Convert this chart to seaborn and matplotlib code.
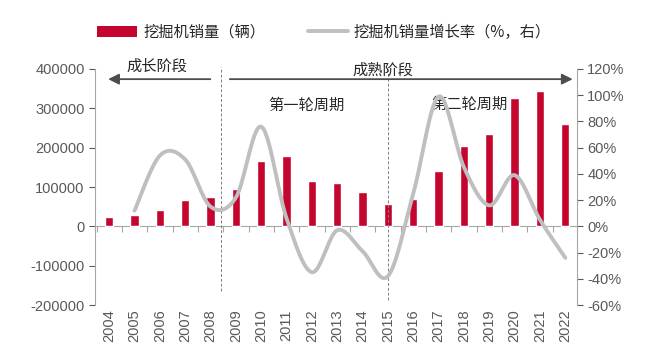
import matplotlib
matplotlib.use("Agg")
import matplotlib.pyplot as plt
import numpy as np
import seaborn as sns
from matplotlib.patches import Patch
from matplotlib.lines import Line2D

years = [str(y) for y in range(2004, 2023)]
sales = [23000, 28000, 42000, 66000, 75000, 94000, 167000, 178000, 115000, 109000,
         88000, 56000, 70000, 140000, 203000, 236000, 327000, 343000, 261000]
growth_years = years[1:]
growth = [12, 54, 51, 15, 22, 76, 6, -35, -3, -19, -38, 25, 99, 45, 16, 39, 5, -24]

bar_color = "#C4062F"
line_color = "#BFBFBF"
tick_color = "#595959"
cjk = ["Noto Sans CJK SC", "DejaVu Sans"]


def smooth(xs, ys, n=30):
    # Catmull-Rom curve through the points (like Excel's smoothed line)
    p = np.column_stack([xs, ys]).astype(float)
    p = np.vstack([p[0], p, p[-1]])
    out = []
    for i in range(1, len(p) - 2):
        p0, p1, p2, p3 = p[i - 1], p[i], p[i + 1], p[i + 2]
        t = np.linspace(0, 1, n, endpoint=False)[:, None]
        out.append(0.5 * (2 * p1 + (-p0 + p2) * t
                          + (2 * p0 - 5 * p1 + 4 * p2 - p3) * t ** 2
                          + (-p0 + 3 * p1 - 3 * p2 + p3) * t ** 3))
    out.append(p[-2][None, :])
    out = np.vstack(out)
    return out[:, 0], out[:, 1]


sns.set_style("white")
plt.rcParams["font.family"] = ["Liberation Sans", "DejaVu Sans"]

fig = plt.figure(figsize=(6.48, 3.59), dpi=100)
ax = fig.add_axes([0.1466, 0.1504, 0.7434, 0.6574])

sns.barplot(x=years, y=sales, ax=ax, color=bar_color, width=0.33, saturation=1)
ax.set_xlim(-0.56, 18.45)
ax.set_ylim(-200000, 400000)
ax.set_yticks(range(-200000, 400001, 100000))
ax.set_yticklabels([str(v) for v in range(-200000, 400001, 100000)])
ax.set_xlabel("")
ax.set_ylabel("")
ax.tick_params(axis="y", colors=tick_color, labelsize=10.5, length=4, width=0.8, direction="out", left=True)
ax.tick_params(axis="x", colors=tick_color, labelsize=10.5, length=0, rotation=90, pad=3)
for s in ["top", "bottom", "right"]:
    ax.spines[s].set_visible(False)
ax.spines["left"].set_color("#A6A6A6")

# zero axis line with category ticks
zero = ax.secondary_xaxis(1 / 3)
zero.set_xticks(np.arange(-0.5, 19, 1))
zero.set_xticklabels([])
zero.tick_params(axis="x", length=4, width=0.8, color="#A6A6A6", direction="out")
zero.spines["bottom"].set_color("#A6A6A6")

ax2 = ax.twinx()
gx = [years.index(y) for y in growth_years]
sx, sy = smooth(gx, growth)
ax2.plot(sx, sy, color=line_color, lw=2.8, solid_capstyle="round")
ax2.set_ylim(-60, 120)
ax2.set_yticks(range(-60, 121, 20))
ax2.set_yticklabels([f"{v}%" for v in range(-60, 121, 20)])
ax2.tick_params(axis="y", colors=tick_color, labelsize=10.5, length=4, width=0.8, direction="out")
for s in ["top", "bottom", "left"]:
    ax2.spines[s].set_visible(False)
ax2.spines["right"].set_color("#A6A6A6")

# stage dividers and arrows
trans = ax.get_xaxis_transform()
ax.axvline(4.4, ymin=0.06, ymax=1.01, color="#7F7F7F", lw=0.7, ls=(0, (3, 2)), clip_on=False)
ax.axvline(11.0, ymin=0.02, ymax=1.0, color="#7F7F7F", lw=0.7, ls=(0, (3, 2)), clip_on=False)
ax.annotate("", xy=(-0.15, 0.957), xytext=(4.1, 0.957), xycoords=trans, textcoords=trans,
            arrowprops=dict(arrowstyle="-|>", color="#4D4D4D", lw=1.3, mutation_scale=16))
ax.annotate("", xy=(18.4, 0.957), xytext=(4.65, 0.957), xycoords=trans, textcoords=trans,
            arrowprops=dict(arrowstyle="-|>", color="#4D4D4D", lw=1.3, mutation_scale=16))
ax.text(1.9, 1.01, "成长阶段", transform=trans, ha="center", va="center", fontsize=11, family=cjk)
ax.text(10.8, 0.995, "成熟阶段", transform=trans, ha="center", va="center", fontsize=11, family=cjk)
ax.text(7.8, 0.847, "第一轮周期", transform=trans, ha="center", va="center", fontsize=11, family=cjk)
ax.text(14.2, 0.852, "第二轮周期", transform=trans, ha="center", va="center", fontsize=11, family=cjk)

handles = [Patch(facecolor=bar_color, edgecolor="none", label="挖掘机销量（辆）"),
           Line2D([], [], color=line_color, lw=2.8, label="挖掘机销量增长率（%，右）")]
fig.legend(handles=handles, loc="center", bbox_to_anchor=(0.5, 0.91), ncol=2, frameon=False,
           prop={"family": cjk, "size": 11}, handlelength=2.6, handleheight=0.7,
           columnspacing=2.8, handletextpad=0.4)

fig.savefig("out.png", dpi=100)
